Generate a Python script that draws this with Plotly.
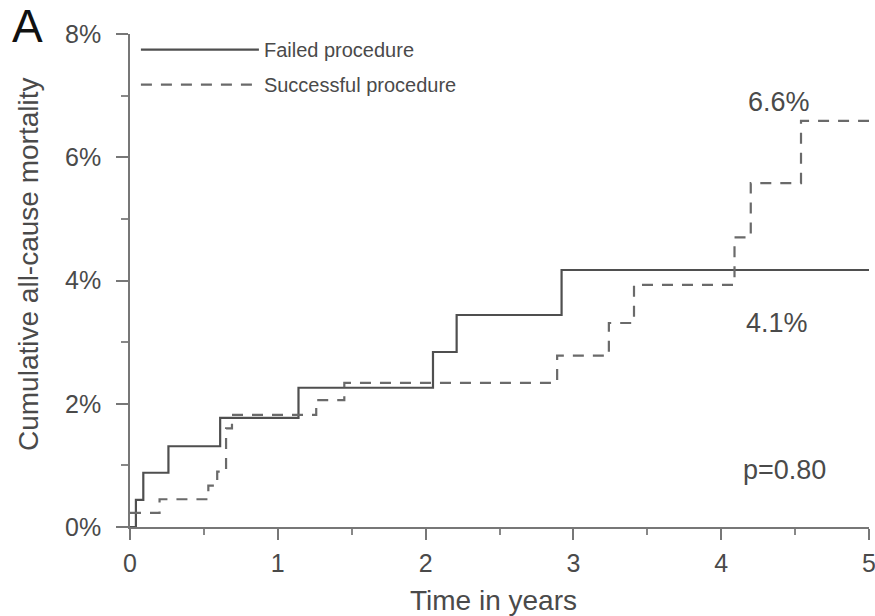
import plotly.graph_objects as go

# Data
failed_t = [0, 0.04, 0.09, 0.26, 0.61, 1.14, 2.05, 2.21, 2.92, 5.0]
failed_y = [0, 0.44, 0.88, 1.31, 1.77, 2.26, 2.84, 3.44, 4.17, 4.17]

success_t = [0, 0.20, 0.53, 0.59, 0.65, 0.69, 1.26, 1.45, 2.89, 3.24, 3.41, 4.09, 4.20, 4.54, 5.0]
success_y = [0.23, 0.45, 0.67, 0.90, 1.60, 1.82, 2.06, 2.34, 2.78, 3.31, 3.93, 4.70, 5.58, 6.59, 6.59]

x_ticks = [0, 1, 2, 3, 4, 5]
y_ticks = [0, 2, 4, 6, 8]

FONT = "Liberation Sans, Arial, sans-serif"
TXT = "#4a4a4a"

fig = go.Figure()
fig.add_trace(go.Scatter(
    x=failed_t, y=failed_y, mode="lines", line_shape="hv",
    name="Failed procedure", legendgroup="f",
    line=dict(color="#4f4f4f", width=2.2),
))
fig.add_trace(go.Scatter(
    x=success_t, y=success_y, mode="lines", line_shape="hv",
    name="Successful procedure", legendgroup="s",
    line=dict(color="#6a6a6a", width=2.2, dash="11px,9px"),
))

annots = [
    dict(x=4.39, y=6.9, text="6.6%"),
    dict(x=4.38, y=3.31, text="4.1%"),
    dict(x=4.43, y=0.92, text="p=0.80"),
]
for a in annots:
    fig.add_annotation(x=a["x"], y=a["y"], text=a["text"], showarrow=False,
                       xref="x", yref="y", xanchor="center", yanchor="middle",
                       font=dict(size=27, color=TXT, family=FONT))

fig.update_layout(
    width=875, height=616,
    margin=dict(l=130, r=6, t=34, b=89, autoexpand=False),
    paper_bgcolor="white", plot_bgcolor="white",
    font=dict(family=FONT, color=TXT),
    showlegend=True,
    legend=dict(x=0.008, y=1.008, xanchor="left", yanchor="top",
                font=dict(size=20, color=TXT, family=FONT),
                itemwidth=118, tracegroupgap=6, bgcolor="rgba(0,0,0,0)"),
    xaxis=dict(range=[0, 5], tickvals=x_ticks, ticktext=[str(v) for v in x_ticks],
               showline=True, linecolor="#777777", linewidth=1.5,
               ticks="outside", ticklen=11, tickcolor="#777777", tickwidth=1.5,
               minor=dict(dtick=0.5, ticks="outside", ticklen=6, tickcolor="#888888", showgrid=False),
               showgrid=False, zeroline=False, ticklabeloverflow="allow",
               ticklabelstandoff=2, automargin=False,
               tickfont=dict(size=25, color=TXT, family=FONT)),
    yaxis=dict(range=[0, 8], tickvals=y_ticks, ticktext=[f"{v}%" for v in y_ticks],
               showline=True, linecolor="#777777", linewidth=1.5,
               ticks="outside", ticklen=12, tickcolor="#777777", tickwidth=1.5,
               minor=dict(dtick=1, ticks="outside", ticklen=7, tickcolor="#888888", showgrid=False),
               showgrid=False, zeroline=False, ticklabeloverflow="allow",
               ticklabelstandoff=10, automargin=False,
               tickfont=dict(size=25, color=TXT, family=FONT)),
)

fig.add_annotation(text="Time in years", xref="paper", yref="paper",
                   x=(493 - 130) / 739, y=-(600 - 527) / 493, showarrow=False,
                   xanchor="center", yanchor="middle",
                   font=dict(size=28, color=TXT, family=FONT))
fig.add_annotation(text="Cumulative all-cause mortality", xref="paper", yref="paper",
                   x=-(130 - 28) / 739, y=(527 - 265) / 493, showarrow=False, textangle=-90,
                   xanchor="center", yanchor="middle",
                   font=dict(size=28, color=TXT, family=FONT))
fig.add_annotation(text="A", xref="paper", yref="paper",
                   x=-(130 - 27) / 739, y=(527 - 26) / 493, showarrow=False,
                   xanchor="center", yanchor="middle",
                   font=dict(size=46, color="#111111", family=FONT))

fig.write_html("out.html")
